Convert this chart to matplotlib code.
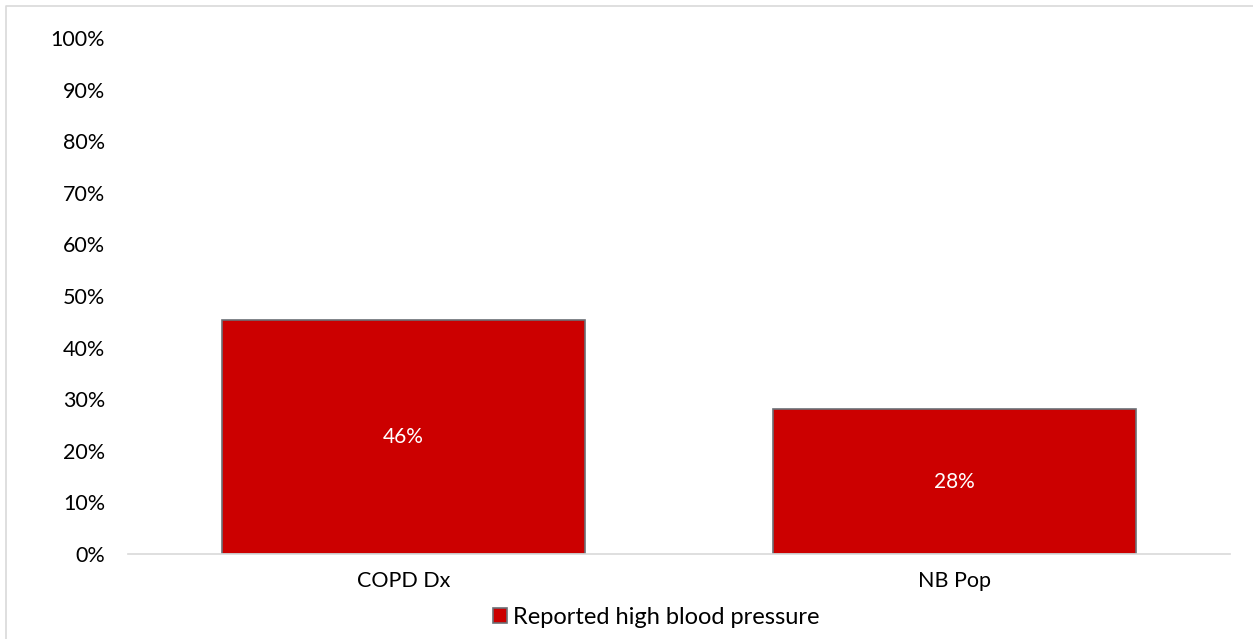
import numpy as np
import matplotlib.pyplot as plt
from matplotlib.lines import Line2D
from matplotlib.ticker import PercentFormatter

categories = ['COPD Dx', 'NB Pop']
values = [45.4, 28.1]
labels = ['46%', '28%']
series_name = 'Reported high blood pressure'

plt.rcParams['font.family'] = ['Lato', 'DejaVu Sans']

W, H = 1253, 639
fig = plt.figure(figsize=(W / 100, H / 100), dpi=100)
ax = fig.add_axes([128 / W, (H - 554) / H, (1230 - 128) / W, (554 - 38) / H])

x = np.arange(len(categories))
bars = ax.bar(x, values, width=0.66, color='#cc0000', edgecolor='#6b6f75',
              linewidth=1.2, label=series_name)
for b, lab in zip(bars, labels):
    ax.text(b.get_x() + b.get_width() / 2, b.get_height() / 2, lab,
            ha='center', va='center', color='white', fontsize=15)

ax.set_xlim(-0.5, 1.5)
ax.set_ylim(0, 100)
ax.set_yticks(np.arange(0, 101, 10))
ax.yaxis.set_major_formatter(PercentFormatter(decimals=0))
ax.set_xticks(x)
ax.set_xticklabels(categories)
ax.tick_params(length=0, labelsize=15.5, colors='black')
ax.tick_params(axis='y', pad=16.5)
ax.tick_params(axis='x', pad=12)
for s in ['top', 'right', 'left']:
    ax.spines[s].set_visible(False)
ax.spines['bottom'].set_color('#d9d9d9')
ax.spines['bottom'].set_linewidth(1.2)

fig.legend(handles=[bars], labels=[series_name], loc='center',
           bbox_to_anchor=(656 / W, (H - 617) / H), frameon=False,
           fontsize=17, handlelength=0.6, handleheight=0.6, handletextpad=0.25)

# chart-area border (left and top visible)
fig.lines.append(Line2D([6 / W, 6 / W, 1], [0, (H - 6) / H, (H - 6) / H],
                        transform=fig.transFigure, color='#d9d9d9', linewidth=1.2))

fig.savefig('out.png', dpi=100)
